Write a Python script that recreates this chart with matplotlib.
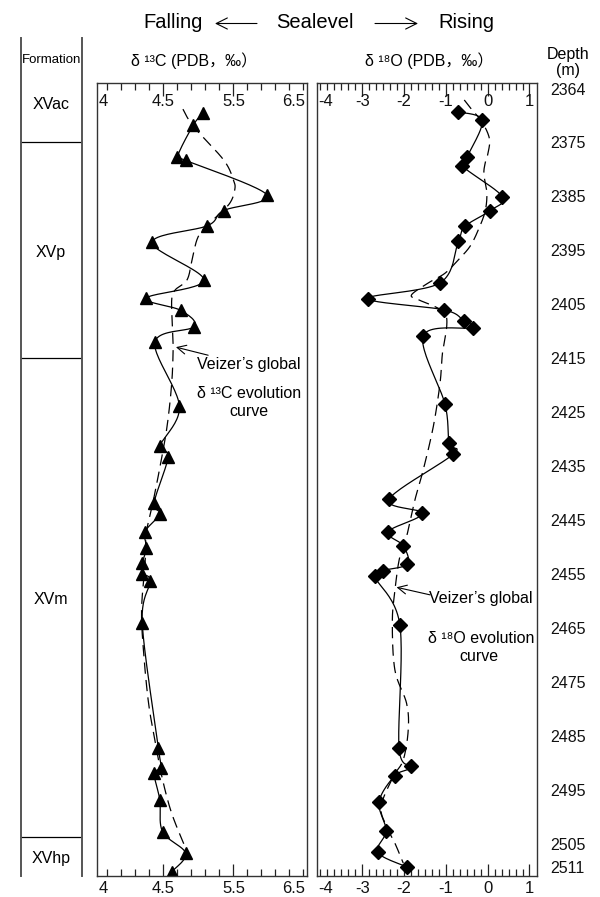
import numpy as np
import matplotlib
matplotlib.use("Agg")
import matplotlib.pyplot as plt
import matplotlib.transforms as mtransforms
from matplotlib.patches import FancyArrowPatch

plt.rcParams['font.family'] = ['Liberation Sans', 'DejaVu Sans', 'Noto Sans CJK SC']

# ---------------- data ----------------
# delta 13C samples (depth in m, value in permil PDB)
c_depth = [2369.7, 2371.8, 2377.8, 2378.4, 2384.8, 2387.7, 2390.5, 2393.6, 2400.6,
           2403.9, 2406.2, 2409.2, 2412.1, 2424.0, 2431.4, 2433.3, 2441.8, 2443.9,
           2447.2, 2450.2, 2453.0, 2455.0, 2456.4, 2464.2, 2487.3, 2490.9, 2492.0,
           2496.9, 2502.8, 2506.8, 2510.2]
c_value = [5.07, 4.93, 4.70, 4.82, 5.98, 5.36, 5.13, 4.34, 5.08,
           4.26, 4.75, 4.94, 4.38, 4.73, 4.45, 4.57, 4.37, 4.45,
           4.24, 4.26, 4.20, 4.20, 4.31, 4.20, 4.43, 4.47, 4.37,
           4.45, 4.49, 4.82, 4.62]

# Veizer's global delta 13C evolution curve
vc_depth = [2368.9, 2372.1, 2378.3, 2382.0, 2383.8, 2386.3, 2388.8, 2391.2, 2393.1,
            2396.8, 2400.5, 2402.4, 2404.2, 2409.2, 2413.5, 2419.7, 2427.1, 2433.3,
            2441.3, 2447.2, 2453.0, 2461.7, 2469.7, 2479.0, 2485.8, 2492.6, 2499.4,
            2506.2]
vc_value = [4.78, 4.93, 5.36, 5.50, 5.52, 5.45, 5.26, 5.07, 4.98,
            4.91, 4.84, 4.67, 4.62, 4.63, 4.64, 4.62, 4.56, 4.48,
            4.36, 4.26, 4.24, 4.19, 4.22, 4.29, 4.38, 4.48, 4.62,
            4.83]

# delta 18O samples
o_depth = [2369.4, 2371.0, 2377.7, 2379.4, 2385.1, 2387.7, 2390.6, 2393.4, 2401.1,
           2404.0, 2406.1, 2408.2, 2409.4, 2410.9, 2423.6, 2430.8, 2432.8, 2441.2,
           2443.8, 2447.2, 2449.8, 2453.2, 2454.4, 2455.5, 2464.5, 2487.3, 2490.7,
           2492.4, 2497.3, 2502.6, 2506.6, 2509.3]
o_value = [-0.72, -0.13, -0.49, -0.61, 0.35, 0.06, -0.54, -0.70, -1.14,
           -2.87, -1.04, -0.56, -0.34, -1.54, -1.02, -0.93, -0.82, -2.36,
           -1.56, -2.38, -2.02, -1.92, -2.50, -2.70, -2.10, -2.12, -1.83,
           -2.22, -2.60, -2.43, -2.63, -1.94]

# Veizer's global delta 18O evolution curve
vo_depth = [2367.2, 2369.0, 2371.2, 2374.3, 2377.0, 2378.9, 2381.0, 2384.4, 2387.8,
            2391.2, 2394.3, 2396.8, 2399.3, 2401.1, 2403.3, 2404.2, 2405.5, 2406.7,
            2409.2, 2414.0, 2419.7, 2427.7, 2435.7, 2441.3, 2448.1, 2451.8, 2456.8,
            2463.5, 2472.8, 2479.0, 2483.9, 2489.5, 2492.6, 2498.1, 2501.8, 2504.9,
            2508.6]
vo_value = [-0.56, -0.38, -0.14, 0.04, 0.01, -0.06, -0.09, -0.02, -0.06,
            -0.22, -0.42, -0.70, -1.02, -1.42, -1.82, -1.66, -1.26, -1.02,
            -0.98, -1.08, -1.14, -1.30, -1.54, -1.74, -1.94, -2.10, -2.20,
            -2.28, -2.22, -1.94, -1.90, -2.02, -2.26, -2.55, -2.42, -2.22,
            -2.02]

# formations
formation_names = ['XVac', 'XVp', 'XVm', 'XVhp']
formation_bounds = [2375.0, 2415.0, 2503.7]
formation_label_depth = [2368.0, 2395.5, 2459.8, 2507.7]

depth_ticks = [2364, 2375, 2385, 2395, 2405, 2415, 2425, 2435, 2445, 2455,
               2465, 2475, 2485, 2495, 2505, 2511]
c_tick_labels = ['4', '4.5', '5.5', '6.5']
o_tick_labels = ['-4', '-3', '-2', '-1', '0', '1']

DEPTH_TOP, DEPTH_BOTTOM = 2364, 2511

# ---------------- layout ----------------
W, H = 600, 897
fig = plt.figure(figsize=(W / 100, H / 100), dpi=100)


def fx(px):
    return px / W


def fy(py):
    return 1 - py / H


def axes_px(left, top, right, bottom):
    return fig.add_axes([fx(left), fy(bottom), (right - left) / W, (bottom - top) / H])


PANEL_TOP, PANEL_BOTTOM = 82.7, 876.0
px_per_m = (PANEL_BOTTOM - PANEL_TOP) / (DEPTH_BOTTOM - DEPTH_TOP)

axc = axes_px(96.7, PANEL_TOP, 307.0, PANEL_BOTTOM)
axo = axes_px(316.7, PANEL_TOP, 537.0, PANEL_BOTTOM)

# formation column shares the depth scale but extends above the panels
col_top_px = 38.0
col_top_depth = DEPTH_TOP - (PANEL_TOP - col_top_px) / px_per_m
axf = axes_px(20.7, col_top_px, 81.7, PANEL_BOTTOM)

frame_color = '#333333'
for ax in (axc, axo):
    ax.set_ylim(DEPTH_BOTTOM, DEPTH_TOP)
    for s in ax.spines.values():
        s.set_color(frame_color)
        s.set_linewidth(1.0)

axc.set_xlim(3.55, 6.55)
axo.set_xlim(-4.09, 1.18)

# x ticks (marks only, labels are placed as text)
axc.set_xticks([4.5, 5.5])
axc.set_xticks(np.arange(3.7, 6.55, 0.2), minor=True)
axo.set_xticks([-3, -2, -1, 0, 1])
axo.set_xticks(np.arange(-4.0, 1.1, 1 / 6), minor=True)
for ax in (axc, axo):
    ax.tick_params(axis='x', which='both', direction='in', top=True, bottom=True,
                   labelbottom=False, labeltop=False, color='#222222', width=0.9)
    ax.tick_params(axis='x', which='major', length=9)
    ax.tick_params(axis='x', which='minor', length=5)

axc.set_yticks([])
axo.set_yticks(depth_ticks)
axo.yaxis.set_ticks_position('right')
axo.tick_params(axis='y', length=0, pad=9.5, labelsize=11.5, labelcolor='#111111')
axo.set_yticklabels([str(d) for d in depth_ticks])
ylabels = axo.get_yticklabels()
ylabels[0].set_verticalalignment('top')
ylabels[-1].set_verticalalignment('bottom')

# tick labels
tick_fs = 12
top_y = 1 - (101.7 - PANEL_TOP) / (PANEL_BOTTOM - PANEL_TOP)
bot_y = -(888.0 - PANEL_BOTTOM) / (PANEL_BOTTOM - PANEL_TOP)


def put_labels(ax, positions, labels):
    tr = mtransforms.blended_transform_factory(ax.transData, ax.transAxes)
    for y in (top_y, bot_y):
        ax.text(0.008, y, labels[0], transform=ax.transAxes, ha='left', va='center',
                fontsize=tick_fs, color='#111111')
        for p, lab in zip(positions, labels[1:]):
            if ax is axc and lab == labels[-1]:
                ax.text(0.99, y, lab, transform=ax.transAxes, ha='right', va='center',
                        fontsize=tick_fs, color='#111111')
                continue
            ax.text(p, y, lab, transform=tr, ha='center', va='center',
                    fontsize=tick_fs, color='#111111')


put_labels(axc, [4.5, 5.5, 6.5], c_tick_labels)
put_labels(axo, [-3, -2, -1, 0, 1], o_tick_labels)


# ---------------- smoothed curves ----------------
def smooth(ax, xs, ys, n=24):
    pts = ax.transData.transform(np.column_stack([xs, ys]))
    P = np.vstack([pts[0], pts, pts[-1]])
    t = np.linspace(0, 1, n)[:, None]
    out = []
    for i in range(1, len(P) - 2):
        p0, p1, p2, p3 = P[i - 1], P[i], P[i + 1], P[i + 2]
        c1 = p1 + (p2 - p0) / 6
        c2 = p2 - (p3 - p1) / 6
        seg = (1 - t) ** 3 * p1 + 3 * (1 - t) ** 2 * t * c1 + 3 * (1 - t) * t ** 2 * c2 + t ** 3 * p2
        out.append(seg if i == 1 else seg[1:])
    curve = ax.transData.inverted().transform(np.vstack(out))
    return curve[:, 0], curve[:, 1]


dash = (0, (9, 5))
lw = 0.9

x, y = smooth(axc, vc_value, vc_depth)
axc.plot(x, y, color='black', lw=lw, ls=dash)
x, y = smooth(axc, c_value, c_depth)
axc.plot(x, y, color='black', lw=lw)
axc.plot(c_value, c_depth, ls='none', marker='^', ms=8, color='black')

x, y = smooth(axo, vo_value, vo_depth)
axo.plot(x, y, color='black', lw=lw, ls=dash)
x, y = smooth(axo, o_value, o_depth)
axo.plot(x, y, color='black', lw=lw)
axo.plot(o_value, o_depth, ls='none', marker='D', ms=6.8, color='black')

# annotations
ann_fs = 11.5
axc.annotate('', xy=(4.68, 2413.0), xytext=(5.14, 2414.5),
             arrowprops=dict(arrowstyle='->', lw=0.8, color='black', mutation_scale=16,
                             shrinkA=0, shrinkB=0))
axc.text(5.72, 2416.3, "Veizer’s global", ha='center', va='center', fontsize=ann_fs)
axc.text(5.72, 2421.5, 'δ ¹³C evolution', ha='center', va='center', fontsize=ann_fs)
axc.text(5.72, 2425.0, 'curve', ha='center', va='center', fontsize=ann_fs)

axo.annotate('', xy=(-2.18, 2457.5), xytext=(-1.38, 2458.9),
             arrowprops=dict(arrowstyle='->', lw=0.8, color='black', mutation_scale=16,
                             shrinkA=0, shrinkB=0))
axo.text(-0.16, 2459.5, "Veizer’s global", ha='center', va='center', fontsize=ann_fs)
axo.text(-0.16, 2466.9, 'δ ¹⁸O evolution', ha='center', va='center', fontsize=ann_fs)
axo.text(-0.20, 2470.4, 'curve', ha='center', va='center', fontsize=ann_fs)

# ---------------- formation column ----------------
axf.set_ylim(DEPTH_BOTTOM, col_top_depth)
axf.set_xlim(0, 1)
axf.set_xticks([])
axf.set_yticks([])
axf.spines['top'].set_visible(False)
axf.spines['bottom'].set_visible(False)
for side in ('left', 'right'):
    axf.spines[side].set_color('#555555')
    axf.spines[side].set_linewidth(1.4)
for b in formation_bounds:
    axf.axhline(b, color='black', lw=0.9)
for name, d in zip(formation_names, formation_label_depth):
    axf.text(0.5, d, name, ha='center', va='center', fontsize=11.5)
fig.text(fx(51.2), fy(60), 'Formation', ha='center', va='center', fontsize=9.5)

# ---------------- headers ----------------
fig.text(fx(194), fy(61), 'δ ¹³C (PDB，‰）', ha='center', va='center', fontsize=11.5)
fig.text(fx(429), fy(61), 'δ ¹⁸O (PDB，‰）', ha='center', va='center', fontsize=11.5)
fig.text(fx(568), fy(55), 'Depth', ha='center', va='center', fontsize=11.5)
fig.text(fx(568), fy(71), '(m)', ha='center', va='center', fontsize=11.5)

title_fs = 14.5
fig.text(fx(173.5), fy(22), 'Falling', ha='center', va='center', fontsize=title_fs)
fig.text(fx(315), fy(23), 'Sealevel', ha='center', va='center', fontsize=title_fs)
fig.text(fx(466.5), fy(22), 'Rising', ha='center', va='center', fontsize=title_fs)
for x0, x1 in ((257, 215), (375, 418)):
    fig.add_artist(FancyArrowPatch((fx(x0), fy(23.5)), (fx(x1), fy(23.5)),
                                   transform=fig.transFigure, arrowstyle='->',
                                   mutation_scale=20, lw=0.8, color='black',
                                   shrinkA=0, shrinkB=0))

fig.savefig('out.png', dpi=100)
